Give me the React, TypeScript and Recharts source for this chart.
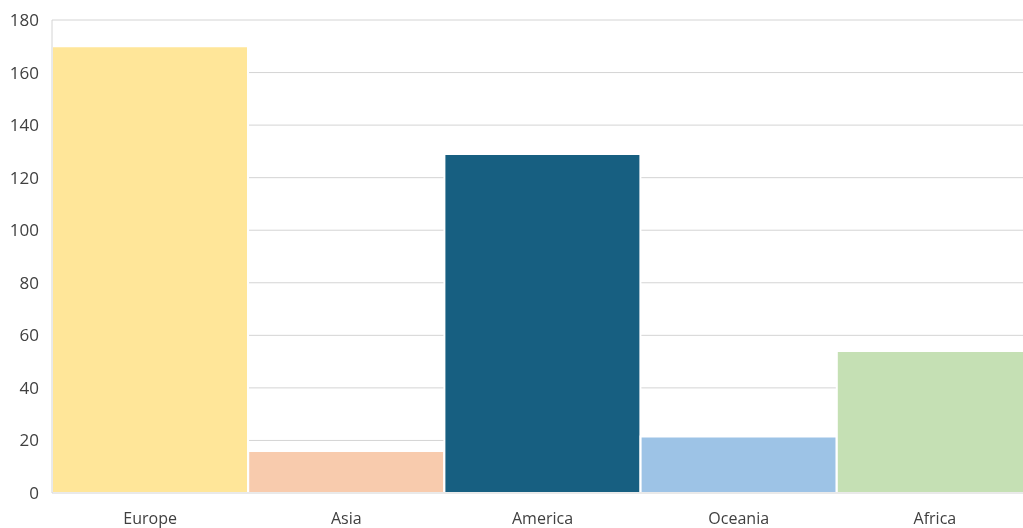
import { BarChart, Bar, XAxis, YAxis, CartesianGrid, Cell } from 'recharts';

const regions = ['Europe', 'Asia', 'America', 'Oceania', 'Africa'];
const counts = [170, 16, 129, 21.5, 54];
const colors = ['#FFE699', '#F8CBAD', '#175F81', '#9DC3E6', '#C5E0B4'];
const yTicks = [0, 20, 40, 60, 80, 100, 120, 140, 160, 180];

const data = regions.map((region, i) => ({ region, count: counts[i] }));

const font = 'Open Sans, Noto Sans, sans-serif';

export default function App() {
  // fixed so the chart can run past the window's edges, as the reference does, without scrollbars
  return (
    <div style={{ position: 'fixed', left: 8, top: 8, width: 1025, height: 520 }}>
      <BarChart
        width={1025}
        height={520}
        data={data}
        margin={{ top: 12, right: 0, bottom: 0, left: 0 }}
        barCategoryGap={0}
      >
        <CartesianGrid vertical={false} stroke="#d4d4d4" />
        <XAxis
          dataKey="region"
          height={35}
          tickSize={0}
          tickMargin={20}
          tickLine={false}
          axisLine={{ stroke: '#d4d4d4' }}
          interval={0}
          tick={{ fill: '#404040', fontSize: 16, fontFamily: font }}
        />
        <YAxis
          width={44}
          domain={[0, 180]}
          ticks={yTicks}
          tickSize={0}
          tickMargin={13}
          tickLine={false}
          axisLine={{ stroke: '#d4d4d4' }}
          tick={{ fill: '#404040', fontSize: 17, fontFamily: font }}
        />
        <Bar dataKey="count" isAnimationActive={false} stroke="#ffffff" strokeWidth={2}>
          {data.map((d, i) => (
            <Cell key={d.region} fill={colors[i]} />
          ))}
        </Bar>
      </BarChart>
    </div>
  );
}
